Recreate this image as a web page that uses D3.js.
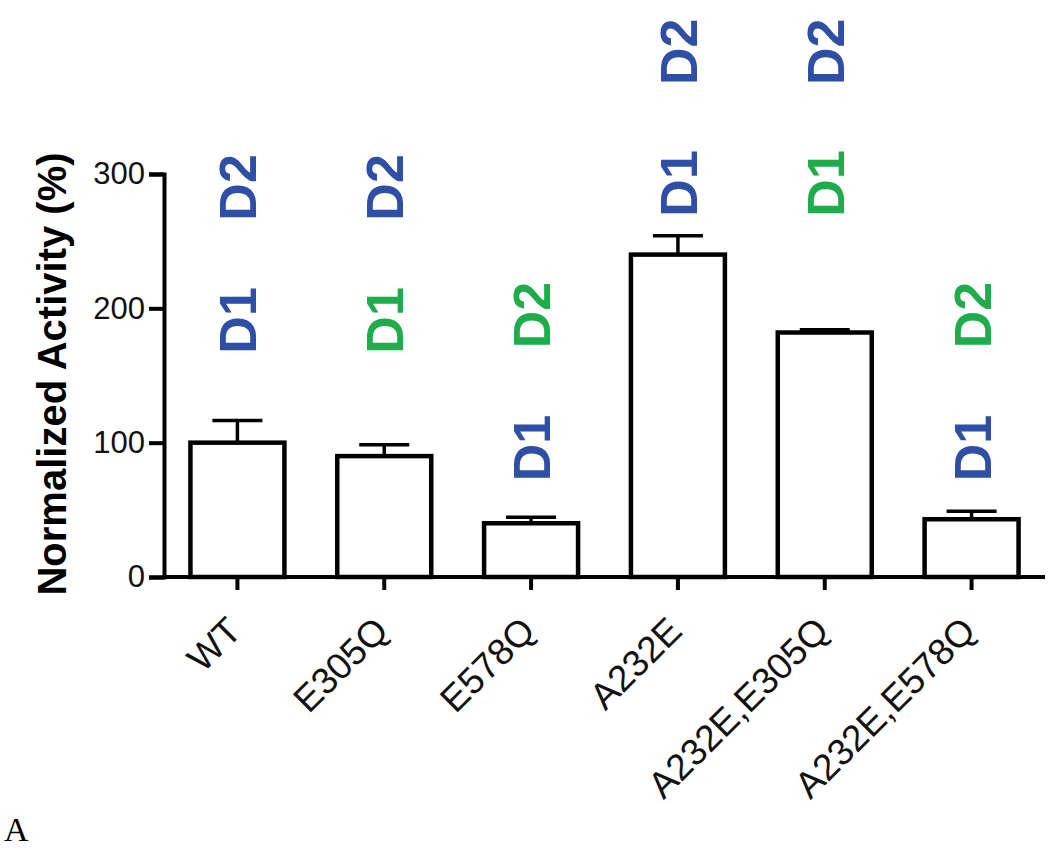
<!DOCTYPE html>
<html>
<head>
<meta charset="utf-8">
<script src="https://cdn.jsdelivr.net/npm/d3@7"></script>
<style>
  html, body { margin: 0; padding: 0; background: #fff; }
  svg { display: block; }
</style>
</head>
<body>
<svg id="chart" width="1050" height="849"></svg>
<script>
// ---- data ----
const categories = ["WT", "E305Q", "E578Q", "A232E", "A232E,E305Q", "A232E,E578Q"];
const means      = [100, 90, 40, 240, 182, 43];
const errors     = [16.5, 8.5, 4.5, 14, 2, 6];
const yTicks     = [0, 100, 200, 300];
// domain annotations: label, category, level (in y units), colour key
const annLabels  = ["D1", "D2", "D1", "D2", "D1", "D2", "D1", "D2", "D1", "D2", "D1", "D2"];
const annCats    = ["WT", "WT", "E305Q", "E305Q", "E578Q", "E578Q", "A232E", "A232E", "A232E,E305Q", "A232E,E305Q", "A232E,E578Q", "A232E,E578Q"];
const annLevels  = [191, 290, 191, 290, 96, 195, 293, 391, 293, 391, 96, 195];
const annColors  = ["blue", "blue", "green", "blue", "blue", "green", "blue", "blue", "green", "blue", "blue", "green"];
const palette    = { blue: "#2f4fa6", green: "#1fad4c" };

// ---- layout ----
const svg = d3.select("#chart");
const x0 = 164, x1 = 1045, yBase = 577, yTop = 174;

const x = d3.scaleBand().domain(categories).range([x0, x1])
  .paddingInner(0.36).paddingOuter(0.18);
const y = d3.scaleLinear().domain([0, 300]).range([yBase, yTop]);

// Y axis
const yAxis = svg.append("g").attr("transform", `translate(${x0},0)`)
  .call(d3.axisLeft(y).tickValues(yTicks).tickSize(15).tickPadding(4).tickFormat(d3.format("d")));
yAxis.select(".domain").attr("stroke", "#000").attr("stroke-width", 4);
yAxis.selectAll(".tick line").attr("stroke", "#000").attr("stroke-width", 4);
yAxis.selectAll(".tick text")
  .attr("font-family", "'Liberation Sans', Arial, sans-serif")
  .attr("font-size", 31).attr("fill", "#111");

// X axis
const xAxis = svg.append("g").attr("transform", `translate(0,${yBase})`)
  .call(d3.axisBottom(x).tickSize(13).tickSizeOuter(0));
xAxis.select(".domain").attr("stroke", "#000").attr("stroke-width", 4)
  .attr("d", `M${x0 - 2},0H${x1}`);
xAxis.selectAll(".tick line").attr("stroke", "#000").attr("stroke-width", 4);
xAxis.selectAll(".tick text")
  .attr("font-family", "'Liberation Sans', Arial, sans-serif")
  .attr("font-size", 37).attr("fill", "#111")
  .attr("text-anchor", "end")
  .attr("transform", "translate(6,56) rotate(-45)")
  .attr("y", 0).attr("dy", 0);

// Bars
svg.append("g").selectAll("rect").data(categories).join("rect")
  .attr("x", d => x(d))
  .attr("y", (d, i) => y(means[i]))
  .attr("width", x.bandwidth())
  .attr("height", (d, i) => y(0) - y(means[i]))
  .attr("fill", "#fff").attr("stroke", "#000").attr("stroke-width", 4.5);

// Error bars (upper)
const eb = svg.append("g").attr("stroke", "#000").attr("stroke-width", 3.5);
categories.forEach((c, i) => {
  const cx = x(c) + x.bandwidth() / 2;
  eb.append("line").attr("x1", cx).attr("x2", cx)
    .attr("y1", y(means[i])).attr("y2", y(means[i] + errors[i]));
  eb.append("line").attr("x1", cx - 25).attr("x2", cx + 25)
    .attr("y1", y(means[i] + errors[i])).attr("y2", y(means[i] + errors[i]));
});

// Domain annotations
svg.append("g").selectAll("text").data(annLabels).join("text")
  .attr("transform", (d, i) => `translate(${x(annCats[i]) + x.bandwidth() / 2 + 1},${y(annLevels[i])}) rotate(-90)`)
  .attr("text-anchor", "middle").attr("dominant-baseline", "central")
  .attr("font-family", "'Liberation Sans', Arial, sans-serif")
  .attr("font-weight", "bold").attr("font-size", 52)
  .attr("fill", (d, i) => palette[annColors[i]])
  .text(d => d);

// Y axis title
svg.append("text")
  .attr("transform", `translate(52,374) rotate(-90)`)
  .attr("text-anchor", "middle").attr("dominant-baseline", "central")
  .attr("font-family", "'Liberation Sans', Arial, sans-serif")
  .attr("font-weight", "bold").attr("font-size", 40).attr("fill", "#000")
  .text("Normalized Activity (%)");

// Panel letter
svg.append("text").attr("x", 4).attr("y", 841)
  .attr("font-family", "'Liberation Serif', 'Times New Roman', serif")
  .attr("font-size", 34).attr("fill", "#000")
  .text("A");
</script>
</body>
</html>
